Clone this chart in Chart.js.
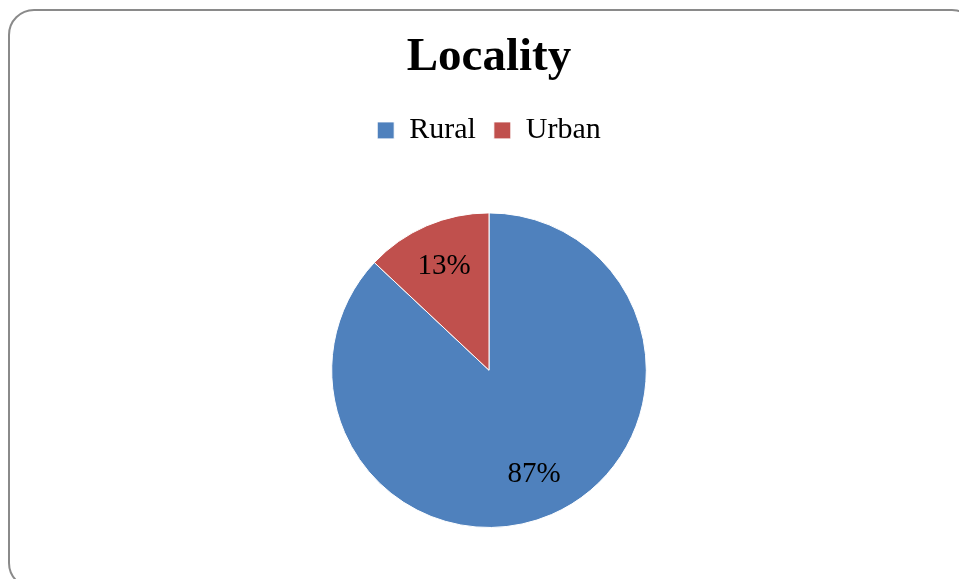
<!DOCTYPE html>
<html>
<head>
<meta charset="utf-8">
<script src="https://cdn.jsdelivr.net/npm/chart.js@4/dist/chart.umd.min.js"></script>
<style>
  html, body { margin: 0; padding: 0; background: #fff; overflow: hidden; }
  #frame {
    position: absolute; left: 8px; top: 9px; width: 970px; height: 580px;
    border: 2.5px solid #8a8a8a; border-radius: 26px; box-sizing: border-box;
  }
  #localityChart { position: absolute; left: 0; top: 0; }
</style>
</head>
<body>
<div id="frame"></div>
<canvas id="localityChart" width="959" height="579"></canvas>
<script>
const categories = ["Rural", "Urban"];
const percentages = [87, 13];
const sliceColors = ["#4F81BD", "#C0504D"];

// writes the % value inside each slice, like the original
const sliceLabels = {
    id: "sliceLabels",
    afterDatasetsDraw(chart) {
        const ctx = chart.ctx;
        const arcs = chart.getDatasetMeta(0).data;
        ctx.save();
        ctx.font = "29px 'Liberation Serif', 'Times New Roman', serif";
        ctx.fillStyle = "#000";
        ctx.textAlign = "center";
        ctx.textBaseline = "middle";
        arcs.forEach((arc, i) => {
            const p = arc.getProps(["x", "y", "startAngle", "endAngle", "outerRadius"], true);
            const mid = (p.startAngle + p.endAngle) / 2;
            const r = p.outerRadius * 0.72;
            ctx.fillText(percentages[i] + "%", p.x + Math.cos(mid) * r, p.y + Math.sin(mid) * r);
        });
        ctx.restore();
    }
};

const ctx = document.getElementById("localityChart").getContext("2d");
new Chart(ctx, {
    type: "pie",
    data: {
        labels: categories,
        datasets: [{
            data: percentages,
            backgroundColor: sliceColors,
            borderColor: "#ffffff",
            borderWidth: 1
        }]
    },
    options: {
        responsive: false,
        animation: false,
        layout: { padding: { left: 19, right: 0, top: 0, bottom: 51 } },
        plugins: {
            title: {
                display: true,
                text: "Locality",
                color: "#000",
                font: { family: "'Liberation Serif', 'Times New Roman', serif", size: 47, weight: "bold" },
                padding: { top: 30, bottom: 11 }
            },
            legend: {
                position: "top",
                labels: {
                    color: "#000",
                    font: { family: "'Liberation Serif', 'Times New Roman', serif", size: 30 },
                    boxWidth: 17,
                    boxHeight: 17,
                    padding: 18
                }
            },
            // empty spacer between the legend and the pie
            subtitle: {
                display: true,
                text: "",
                weight: 500,
                font: { size: 10 },
                padding: { top: 45, bottom: 0 }
            },
            tooltip: { enabled: false }
        }
    },
    plugins: [sliceLabels]
});
</script>
</body>
</html>
